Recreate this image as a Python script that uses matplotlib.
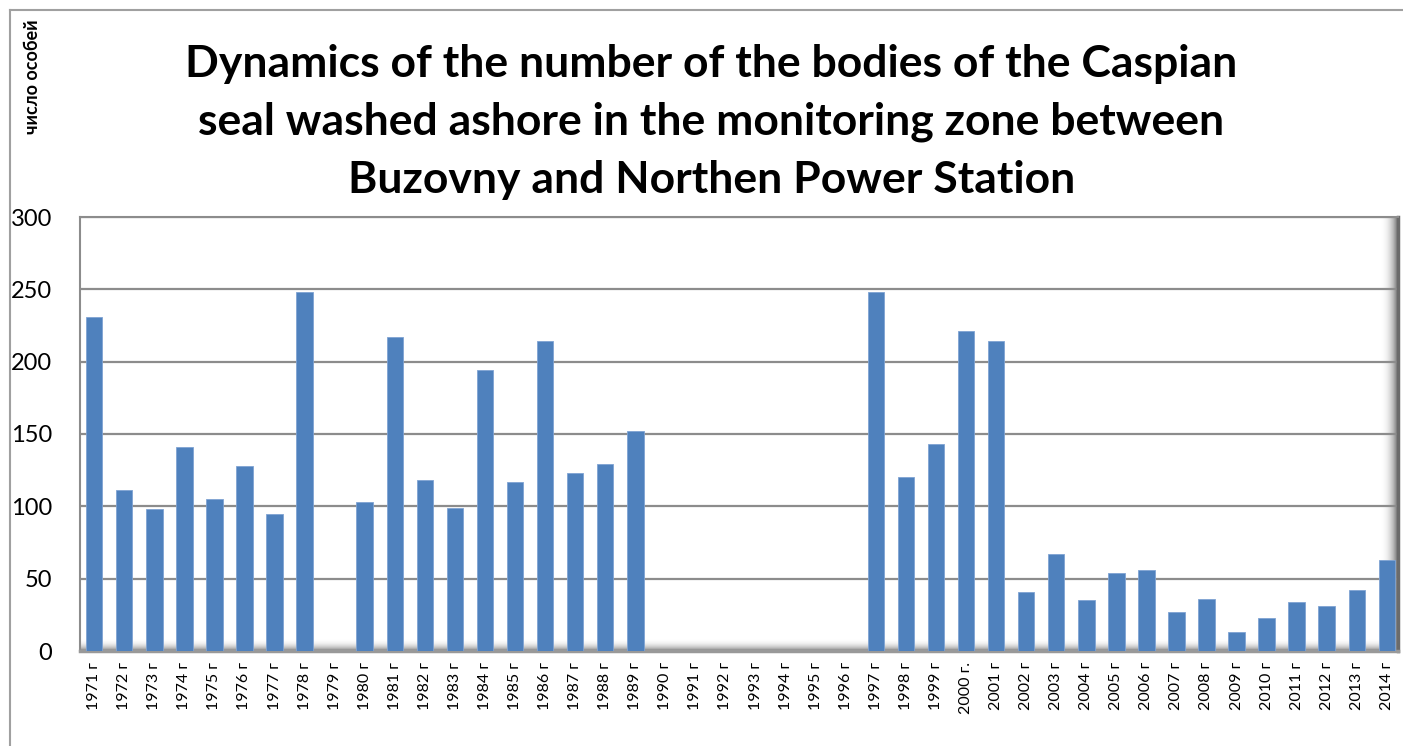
import numpy as np
import matplotlib.pyplot as plt
from matplotlib.lines import Line2D

########################### DATA ###########################
years = list(range(1971, 2015))
labels = [f"{y} г" for y in years]
labels[years.index(2000)] = "2000 г."
counts = [231, 111, 98, 141, 105, 128, 95, 248, 0, 103,
          217, 118, 99, 194, 117, 214, 123, 129, 152, 0,
          0, 0, 0, 0, 0, 0, 248, 120, 143, 221,
          214, 41, 67, 35, 54, 56, 27, 36, 13, 23,
          34, 31, 42, 63]
title = ("Dynamics of the number of the bodies of the Caspian\n"
         "seal washed ashore in the monitoring zone between\n"
         "Buzovny and Northen Power Station")
ylabel = "число особей"
###########################################################

FONT = ['Lato', 'DejaVu Sans']
plt.rcParams['font.family'] = FONT

fig = plt.figure(figsize=(14.03, 7.46), dpi=100)

# outer chart frame
fig.add_artist(Line2D([10/1403, 10/1403], [0, 1-10/746], color='#a0a0a0', lw=1.5))
fig.add_artist(Line2D([10/1403, 1], [1-10/746, 1-10/746], color='#a0a0a0', lw=1.5))

ax = fig.add_axes([80/1403, 1-651/746, (1398-80)/1403, (651-217)/746])
x = np.arange(len(years))
x0, x1 = -0.47, len(years) - 0.63
ax.set_xlim(x0, x1)

# floor gradient and right wall shading (fake 3D look)
grad = np.linspace(0, 1, 64).reshape(-1, 1) ** 1.5
ax.imshow(grad, extent=[x0, x1, 0, 8], aspect='auto',
          cmap='Greys', vmin=0, vmax=1.7, zorder=0)
wall = np.linspace(0, 1, 64).reshape(1, -1) ** 1.5
ax.imshow(wall, extent=[x1 - 0.55, x1, 0, 300], aspect='auto',
          cmap='Greys', vmin=0, vmax=1.6, zorder=0)
ax.set_ylim(0, 300)

ax.set_yticks(range(0, 301, 50))
ax.yaxis.grid(True, color='#8c8c8c', lw=1.6)
ax.set_axisbelow(True)

ax.bar(x, counts, width=0.55, color='#4f81bd', edgecolor='#7fa3d3', lw=0.6, zorder=3)

ax.set_xticks(x)
ax.set_xticklabels(labels, rotation=90, fontsize=11.5, family=FONT)
ax.tick_params(axis='x', length=0, pad=8)
ax.tick_params(axis='y', length=0, pad=20, labelsize=17)

for s in ['top', 'left']:
    ax.spines[s].set_color('#8c8c8c')
    ax.spines[s].set_linewidth(1.5)
ax.spines['bottom'].set_color('#999999')
ax.spines['bottom'].set_linewidth(2.5)
ax.spines['right'].set_color('#6b6b6b')
ax.spines['right'].set_linewidth(2.5)

fig.text(0.507, 1-122/746, title, ha='center', va='center', fontsize=32,
         fontweight='bold', linespacing=1.55)
fig.text(33/1403, 1-77/746, ylabel, rotation=90, ha='center', va='center',
         fontsize=13, fontweight='bold', family=FONT)

fig.savefig('out.png', dpi=100)
